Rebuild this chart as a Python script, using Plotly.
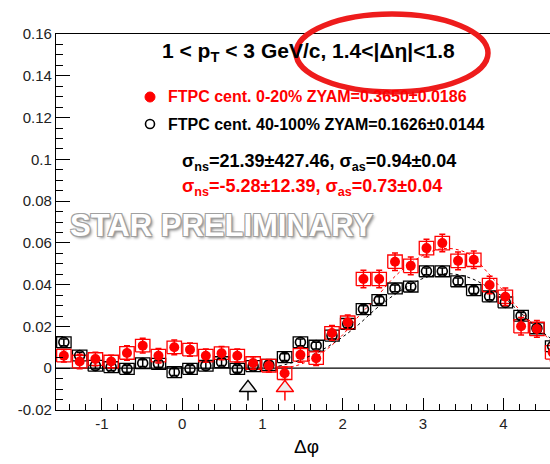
import plotly.graph_objects as go

# ---- data ----
dphi = [-1.473, -1.276, -1.080, -0.884, -0.687, -0.491, -0.295, -0.098,
        0.098, 0.295, 0.491, 0.687, 0.884, 1.080, 1.276, 1.473,
        1.669, 1.866, 2.062, 2.258, 2.454, 2.651, 2.847, 3.043,
        3.240, 3.436, 3.632, 3.829, 4.025, 4.221, 4.418, 4.614]

central_y = [0.0060, 0.0032, 0.0044, 0.0032, 0.0073, 0.0108, 0.0060, 0.0100,
             0.0089, 0.0060, 0.0072, 0.0060, 0.0025, 0.0012, -0.0024, 0.0064,
             0.0048, 0.0169, 0.0220, 0.0427, 0.0427, 0.0510, 0.0490, 0.0575,
             0.0599, 0.0514, 0.0519, 0.0398, 0.0342, 0.0201, 0.0188, 0.0076]
central_err = [0.0030, 0.0035, 0.0032, 0.0030, 0.0035, 0.0035, 0.0035, 0.0035,
               0.0032, 0.0032, 0.0032, 0.0032, 0.0030, 0.0030, 0.0030, 0.0035,
               0.0035, 0.0035, 0.0035, 0.0042, 0.0042, 0.0042, 0.0042, 0.0042,
               0.0042, 0.0042, 0.0042, 0.0042, 0.0042, 0.0042, 0.0040, 0.0040]
central_sys = [0.0030] * 16 + [0.0030, 0.0030, 0.0030, 0.0032, 0.0032, 0.0032,
                               0.0032, 0.0032, 0.0032, 0.0032, 0.0032, 0.0032,
                               0.0032, 0.0032, 0.0032, 0.0032]

periph_y = [0.0124, 0.0061, 0.0012, 0.0005, -0.0003, 0.0024, 0.0021, -0.0019,
            -0.0003, 0.0012, 0.0029, -0.0003, 0.0010, 0.0016, 0.0053, 0.0124,
            0.0108, 0.0156, 0.0212, 0.0283, 0.0326, 0.0382, 0.0391, 0.0464,
            0.0464, 0.0416, 0.0374, 0.0344, 0.0315, 0.0251, 0.0191, 0.0105]
periph_err = [0.0016] * 32
periph_sys = [0.0026] * 32

fit_central_x = [1.2, 1.4, 1.6, 1.8, 2.0, 2.2, 2.4, 2.6, 2.8, 3.0, 3.2, 3.4,
                 3.6, 3.8, 4.0, 4.2, 4.4, 4.6]
fit_central_y = [0.0, 0.001, 0.004, 0.009, 0.016, 0.025, 0.033, 0.042, 0.049,
                 0.054, 0.057, 0.057, 0.054, 0.046, 0.037, 0.028, 0.020, 0.013]
fit_periph_x = [1.2, 1.4, 1.6, 1.8, 2.0, 2.2, 2.4, 2.6, 2.8, 3.0, 3.2, 3.4,
                3.6, 3.8, 4.0, 4.2, 4.4, 4.6]
fit_periph_y = [0.001, 0.003, 0.006, 0.010, 0.015, 0.021, 0.028, 0.034, 0.039,
                0.043, 0.045, 0.045, 0.043, 0.039, 0.034, 0.027, 0.020, 0.014]

min_x = [0.82, 1.28]
min_y = [-0.0094, -0.0094]
min_err_plus = [0.0, 0.0059]
min_err_minus = [0.0060, 0.0060]

x_tickvals = [-1, 0, 1, 2, 3, 4]
x_ticktext = ["-1", "0", "1", "2", "3", "4"]
y_tickvals = [-0.02, 0, 0.02, 0.04, 0.06, 0.08, 0.1, 0.12, 0.14, 0.16]
y_ticktext = ["-0.02", "0", "0.02", "0.04", "0.06", "0.08", "0.1", "0.12", "0.14", "0.16"]

bin_half = 0.09
RED = "#ff0000"
BLK = "#000000"
FONT = "Liberation Sans, Arial, Helvetica, sans-serif"


def boxes(xs, ys, ss, hw):
    bx, by = [], []
    for x, y, s in zip(xs, ys, ss):
        bx += [x - hw, x + hw, x + hw, x - hw, x - hw, None]
        by += [y - s, y - s, y + s, y + s, y - s, None]
    return bx, by


fig = go.Figure()

# zero line
fig.add_trace(go.Scatter(x=[-1.5708, 5.0], y=[0, 0], mode="lines",
                         line=dict(color=BLK, width=1.2), hoverinfo="skip"))

bx, by = boxes(dphi, periph_y, periph_sys, bin_half)
fig.add_trace(go.Scatter(x=bx, y=by, mode="lines", line=dict(color=BLK, width=1.3)))
bx, by = boxes(dphi, central_y, central_sys, bin_half)
fig.add_trace(go.Scatter(x=bx, y=by, mode="lines", line=dict(color=RED, width=1.3)))

fig.add_trace(go.Scatter(x=fit_periph_x, y=fit_periph_y, mode="lines",
                         line=dict(color=BLK, width=1, dash="dot"), line_shape="spline"))
fig.add_trace(go.Scatter(x=fit_central_x, y=fit_central_y, mode="lines",
                         line=dict(color=RED, width=1, dash="dot"), line_shape="spline"))

fig.add_trace(go.Scatter(
    x=dphi, y=periph_y, mode="markers",
    marker=dict(symbol="circle-open", size=10, color=BLK, line=dict(width=1.6)),
    error_y=dict(type="data", array=periph_err, color=BLK, thickness=1.5, width=3)))
fig.add_trace(go.Scatter(
    x=dphi, y=central_y, mode="markers",
    marker=dict(symbol="circle", size=10, color=RED),
    error_y=dict(type="data", array=central_err, color=RED, thickness=1.5, width=3)))

# minimum markers
for i, col in enumerate([BLK, RED]):
    fig.add_trace(go.Scatter(
        x=[min_x[i]], y=[min_y[i]], mode="markers",
        marker=dict(symbol="triangle-up", size=15, color="#eeeeee",
                    line=dict(color=col, width=1.5)),
        error_y=dict(type="data", symmetric=False, array=[min_err_plus[i]],
                     arrayminus=[min_err_minus[i]], color=col, thickness=1.5, width=0)))

# ---- layout geometry (pixels -> paper) ----
L, R, T, B = 56, 0, 34, 54
PW, PH = 550 - L - R, 464 - T - B


def px(x):
    return (x - L) / PW


def py(y):
    return (464 - B - y) / PH


ann = []
ann.append(dict(x=px(308), y=py(52), text="<b>1 &lt; p<sub>T</sub> &lt; 3 GeV/c, 1.4&lt;|Δη|&lt;1.8</b>",
                font=dict(size=21, color=BLK, family=FONT)))
ann.append(dict(x=px(166), y=py(97), xanchor="left",
                text="<b>FTPC cent. 0-20% ZYAM=0.3650±0.0186</b>",
                font=dict(size=16, color=RED, family=FONT)))
ann.append(dict(x=px(166), y=py(124), xanchor="left",
                text="<b>FTPC cent. 40-100% ZYAM=0.1626±0.0144</b>",
                font=dict(size=16, color=BLK, family=FONT)))
ann.append(dict(x=px(180), y=py(162), xanchor="left",
                text="<b>σ<sub>ns</sub>=21.39±427.46, σ<sub>as</sub>=0.94±0.04</b>",
                font=dict(size=18, color=BLK, family=FONT)))
ann.append(dict(x=px(180), y=py(187), xanchor="left",
                text="<b>σ<sub>ns</sub>=-5.28±12.39, σ<sub>as</sub>=0.73±0.04</b>",
                font=dict(size=18, color=RED, family=FONT)))
ann.append(dict(x=px(221), y=py(225), text="<b>STAR PRELIMINARY</b>",
                font=dict(size=31, color="white", family=FONT,
                          shadow="-1px -1px 0 #a0a0a0, 1px -1px 0 #a0a0a0, -1px 1px 0 #a0a0a0, 1px 1px 0 #a0a0a0, 2px 2px 3px #8a8a8a")))
ann.append(dict(x=px(306), y=py(446), text="Δφ",
                font=dict(size=19, color=BLK, family=FONT)))
for a in ann:
    a.update(xref="paper", yref="paper", showarrow=False, yanchor="middle")

shapes = [
    dict(type="circle", xref="paper", yref="paper", xsizemode="pixel", ysizemode="pixel",
         xanchor=px(150), yanchor=py(97), x0=-5, x1=5, y0=-5, y1=5,
         fillcolor=RED, line=dict(color=RED, width=1)),
    dict(type="circle", xref="paper", yref="paper", xsizemode="pixel", ysizemode="pixel",
         xanchor=px(150), yanchor=py(124), x0=-4.5, x1=4.5, y0=-4.5, y1=4.5,
         fillcolor="rgba(0,0,0,0)", line=dict(color=BLK, width=1.6)),
    dict(type="circle", xref="paper", yref="paper",
         x0=px(296), x1=px(488), y0=py(92), y1=py(14),
         line=dict(color="#ee1c1c", width=5.5), fillcolor="rgba(0,0,0,0)"),
]

fig.update_layout(
    width=550, height=464,
    margin=dict(l=L, r=R, t=T, b=B),
    paper_bgcolor="white", plot_bgcolor="white",
    showlegend=False,
    annotations=ann, shapes=shapes,
    font=dict(family=FONT, size=15, color="#222"),
)
x_right = -1.5708 + PW / 80.3
fig.update_xaxes(range=[-1.5708, x_right], showgrid=False, zeroline=False,
                 showline=True, linecolor=BLK, linewidth=1.2, mirror=True,
                 ticks="inside", ticklen=12, tickwidth=1.2, tickcolor=BLK,
                 tickvals=x_tickvals, ticktext=x_ticktext,
                 tickfont=dict(size=15, color="#222"),
                 minor=dict(ticks="inside", ticklen=6, tickwidth=1, tickcolor=BLK,
                            tick0=0, dtick=0.2))
fig.update_yaxes(range=[-0.02, 0.16], showgrid=False, zeroline=False,
                 showline=True, linecolor=BLK, linewidth=1.2, mirror=False,
                 ticks="inside", ticklen=14, tickwidth=1.2, tickcolor=BLK,
                 tickvals=y_tickvals, ticktext=y_ticktext,
                 tickfont=dict(size=15, color="#222"),
                 minor=dict(ticks="inside", ticklen=7, tickwidth=1, tickcolor=BLK,
                            tick0=0, dtick=0.005))

fig.write_html("out.html")
